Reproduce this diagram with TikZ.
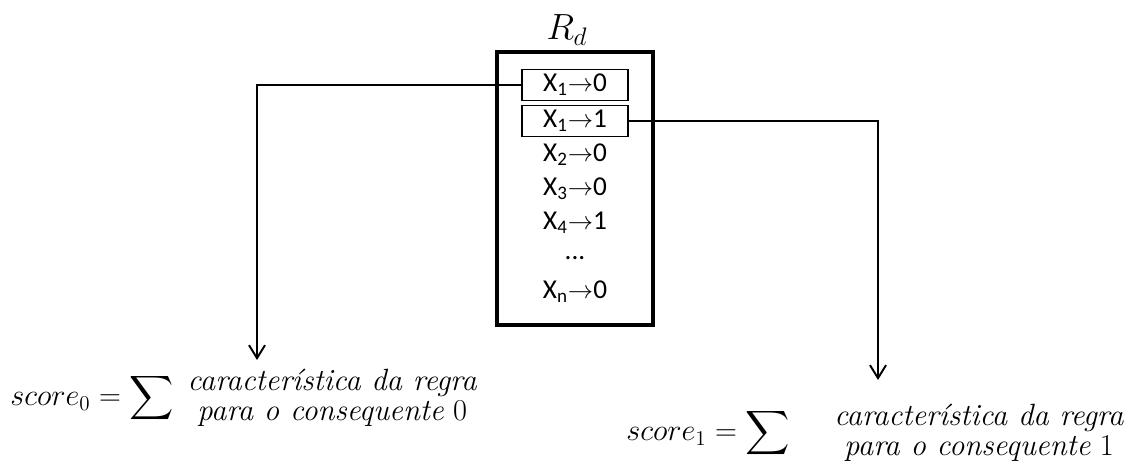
\documentclass[tikz,border=0pt]{standalone}
\usepackage{amsmath,amssymb}
\usepackage{fontspec}
\usepackage{tikz}
\usetikzlibrary{arrows.meta}
\newfontfamily\rulefont{Carlito}

\begin{document}
\begin{tikzpicture}[x=0.02cm,y=-0.02cm,>={Straight Barb[length=2.6mm,width=3.2mm]},line cap=round,
  rulebox/.style={draw,line width=1.1pt,minimum width=2.12cm,minimum height=0.62cm,inner sep=0pt,font=\rulefont\fontsize{15.5}{18}\selectfont},
  ruletext/.style={inner sep=0pt,font=\rulefont\fontsize{15.5}{18}\selectfont},
  conn/.style={line width=1.1pt},
  formula/.style={inner sep=0pt,anchor=west,font=\fontsize{17.5}{21}\selectfont}]
\useasboundingbox (0,0) rectangle (1135,465);
% regras
\node[draw,line width=2.3pt,minimum width=3.12cm,minimum height=5.46cm] (rd) at (575,188.5) {};
\node[font=\fontsize{21}{25}\selectfont] (rdname) at (567,30) {$R_d$};
\node[rulebox] (r10) at (575,85) {X\textsubscript{1}$\rightarrow$0};
\node[rulebox] (r11) at (575,121) {X\textsubscript{1}$\rightarrow$1};
\node[ruletext] (r20) at (575,155) {X\textsubscript{2}$\rightarrow$0};
\node[ruletext] (r30) at (575,189) {X\textsubscript{3}$\rightarrow$0};
\node[ruletext] (r41) at (575,223) {X\textsubscript{4}$\rightarrow$1};
\node[ruletext] (rdots) at (575,258) {...};
\node[ruletext] (rn0) at (575,292) {X\textsubscript{n}$\rightarrow$0};
% scores
\coordinate (s0top) at (257,360);
\coordinate (s1top) at (878,380);
\node[formula] (score0) at (10,398) {$score_0 = \displaystyle\sum \begin{array}{c}\textit{característica da regra}\\[-4pt] \textit{para o consequente}\ 0\end{array}$};
\node[formula] (score1) at (626,433) {$score_1 = \displaystyle\sum\quad \begin{array}{c}\textit{característica da regra}\\[-4pt] \textit{para o consequente}\ 1\end{array}$};
\draw[conn,->] (r10.west) -| (s0top);
\draw[conn,->] (r11.east) -| (s1top);
\end{tikzpicture}
\end{document}
